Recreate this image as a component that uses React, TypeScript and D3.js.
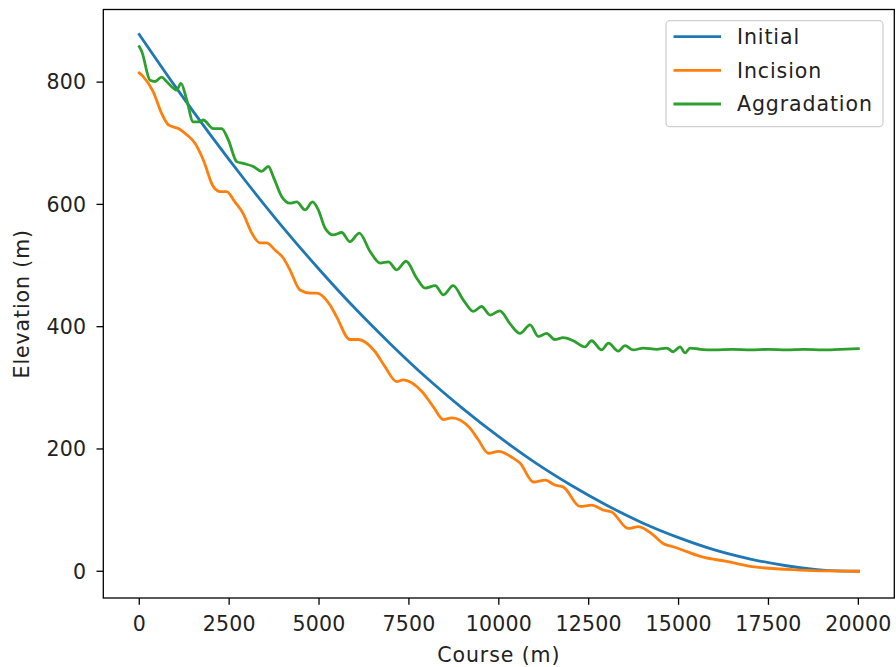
import React from "react";
import * as d3 from "d3";

// Long profile of a river channel: initial state, after incision, after aggradation
const initialCourse = [0, 1000, 2000, 3000, 4000, 5000, 6000, 7000, 8000, 9000, 10000, 11000, 12000, 13000, 14000, 15000, 16000, 17000, 18000, 19000, 20000];
const initialElevation = [878, 793, 712, 635, 562, 494, 430, 371, 316, 266, 220, 178, 141, 108, 79, 55, 35, 20, 9, 2, 0];

const incisionCourse = [0, 110, 390, 620, 810, 1090, 1320, 1550, 1780, 2060, 2250, 2430, 2660, 2890, 3130, 3360, 3540, 3780, 4010, 4190, 4470, 4750, 4940, 5310, 5490, 5860, 6090, 6560, 6830, 7160, 7340, 7860, 8180, 8460, 8690, 9200, 9430, 9710, 9990, 10400, 10590, 10960, 11290, 11560, 11790, 12260, 12580, 12910, 13140, 13600, 13880, 14300, 14580, 14850, 15230, 15690, 16340, 16990, 18380, 19200, 20000];
const incisionElevation = [815, 809, 784, 749, 730, 724, 714, 700, 673, 629, 621, 621, 604, 585, 553, 537, 537, 525, 512, 493, 460, 455, 455, 435, 416, 379, 379, 359, 335, 310, 313, 294, 269, 248, 251, 234, 215, 193, 196, 185, 177, 146, 149, 141, 138, 106, 108, 100, 97, 70, 73, 59, 45, 40, 32, 23, 16, 8, 2, 0.5, 0];

const aggradationCourse = [0, 70, 300, 440, 620, 760, 950, 1040, 1160, 1320, 1500, 1690, 1780, 2060, 2290, 2480, 2710, 2890, 3170, 3400, 3590, 3730, 3960, 4190, 4380, 4610, 4820, 4980, 5170, 5400, 5630, 5860, 6120, 6420, 6700, 6930, 7160, 7420, 7720, 7950, 8230, 8460, 8730, 9010, 9290, 9520, 9760, 10030, 10310, 10590, 10870, 11100, 11330, 11560, 11790, 12070, 12400, 12580, 12860, 13050, 13320, 13510, 13740, 14020, 14390, 14670, 14850, 15040, 15180, 15320, 15600, 16000, 16500, 17000, 17500, 18000, 18500, 19000, 19500, 20000];
const aggradationElevation = [858, 850, 803, 801, 808, 801, 790, 787, 798, 771, 735, 735, 738, 724, 724, 705, 670, 667, 662, 654, 662, 645, 613, 602, 604, 591, 604, 591, 561, 550, 554, 539, 553, 523, 504, 506, 493, 507, 479, 463, 467, 452, 467, 444, 425, 433, 419, 426, 405, 389, 403, 384, 389, 379, 382, 377, 367, 377, 362, 373, 360, 369, 362, 365, 363, 365, 359, 367, 357, 365, 363, 362, 363, 362, 363, 362, 363, 362, 363, 364];

const xTicks = [0, 2500, 5000, 7500, 10000, 12500, 15000, 17500, 20000];
const yTicks = [0, 200, 400, 600, 800];

const seriesNames = ["Initial", "Incision", "Aggradation"];
const seriesColors = ["#1f77b4", "#ff7f0e", "#2ca02c"];

const W = 896;
const H = 667;
const plot = { left: 103.3, right: 894.3, top: 9.5, bottom: 598 };
const FONT = "'DejaVu Sans', sans-serif";
const FS = 20.5;
const WORD_SPACING = 0.9;

export default function App() {
  const x = d3.scaleLinear().domain([-1000, 21000]).range([plot.left, plot.right]);
  const y = d3.scaleLinear().domain([-43.75, 918.75]).range([plot.bottom, plot.top]);

  const line = d3
    .line<[number, number]>()
    .x((d) => x(d[0]))
    .y((d) => y(d[1]))
    .curve(d3.curveMonotoneX);

  const series: [number, number][][] = [
    initialCourse.map((c, i) => [c, initialElevation[i]]),
    incisionCourse.map((c, i) => [c, incisionElevation[i]]),
    aggradationCourse.map((c, i) => [c, aggradationElevation[i]]),
  ];

  const legend = { x: 666, y: 20.7, w: 217, h: 106 };
  const rowY = [36.7, 70.4, 104];

  return (
    <div style={{ position: "fixed", left: 0, top: 0 }}>
      <svg width={W} height={H} style={{ display: "block", background: "#fff" }} fontFamily={FONT}>
        <defs>
          <clipPath id="plotArea">
            <rect x={plot.left} y={plot.top} width={plot.right - plot.left} height={plot.bottom - plot.top} />
          </clipPath>
        </defs>

        <g clipPath="url(#plotArea)">
          {series.map((s, i) => (
            <path
              key={seriesNames[i]}
              d={line(s) ?? ""}
              fill="none"
              stroke={seriesColors[i]}
              strokeWidth={2.8}
              strokeLinejoin="round"
              strokeLinecap="square"
            />
          ))}
        </g>

        {/* frame */}
        <rect
          x={plot.left}
          y={plot.top}
          width={plot.right - plot.left}
          height={plot.bottom - plot.top}
          fill="none"
          stroke="#000"
          strokeWidth={1.3}
        />

        {/* x axis */}
        {xTicks.map((t) => (
          <g key={"x" + t} transform={`translate(${x(t)},${plot.bottom})`}>
            <line y1={0} y2={6.8} stroke="#000" strokeWidth={1.3} />
            <text y={33} textAnchor="middle" fontSize={FS} fill="#222" letterSpacing={0.2}>
              {t}
            </text>
          </g>
        ))}
        <text
          x={(plot.left + plot.right) / 2}
          y={662}
          textAnchor="middle"
          fontSize={FS}
          fill="#222"
          letterSpacing={WORD_SPACING}
        >
          Course (m)
        </text>

        {/* y axis */}
        {yTicks.map((t) => (
          <g key={"y" + t} transform={`translate(${plot.left},${y(t)})`}>
            <line x1={0} x2={-6.8} stroke="#000" strokeWidth={1.3} />
            <text x={-17} dy="0.36em" textAnchor="end" fontSize={FS} fill="#222" letterSpacing={0.2}>
              {t}
            </text>
          </g>
        ))}
        <text
          transform={`translate(29,${(plot.top + plot.bottom) / 2}) rotate(-90)`}
          textAnchor="middle"
          fontSize={FS}
          fill="#222"
          letterSpacing={WORD_SPACING}
        >
          Elevation (m)
        </text>

        {/* legend */}
        <rect
          x={legend.x}
          y={legend.y}
          width={legend.w}
          height={legend.h}
          rx={4}
          fill="#fff"
          fillOpacity={0.8}
          stroke="#d0d0d0"
          strokeWidth={1.3}
        />
        {seriesNames.map((name, i) => (
          <g key={"lg" + name}>
            <line x1={673.5} x2={721} y1={rowY[i]} y2={rowY[i]} stroke={seriesColors[i]} strokeWidth={2.8} />
            <text x={737} y={rowY[i]} dy="0.36em" fontSize={FS} fill="#222" letterSpacing={WORD_SPACING}>
              {name}
            </text>
          </g>
        ))}
      </svg>
    </div>
  );
}
